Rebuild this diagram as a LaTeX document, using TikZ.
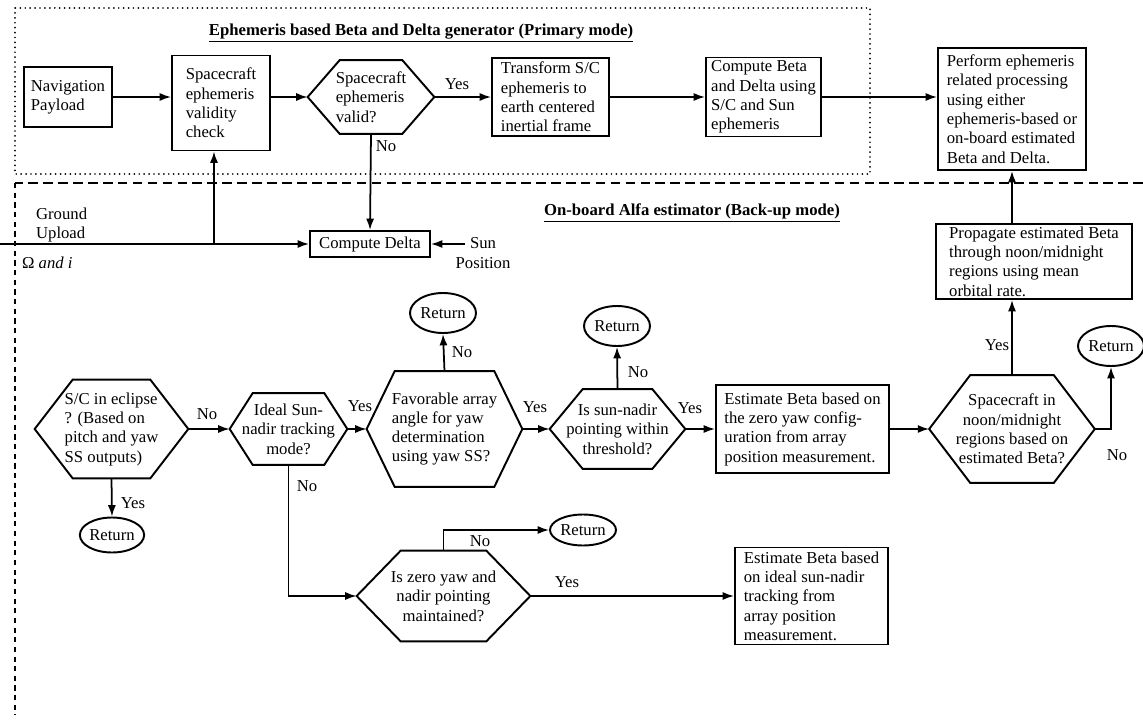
\documentclass[tikz,border=0pt]{standalone}
\usepackage{fontspec}
\setmainfont{Liberation Serif}
\usetikzlibrary{shapes.geometric, calc, arrows.meta}
\tikzset{
  process/.style={rectangle, draw=black, line width=1.1pt,
    font=\fontsize{9.5}{11}\selectfont, align=left, inner sep=1.5pt},
  decision/.style={rectangle, font=\fontsize{9.5}{11}\selectfont,
    align=center, inner sep=1pt},
  hexline/.style={draw=black, line width=1.1pt, line join=miter},
  retnode/.style={ellipse, draw=black, line width=1.1pt,
    font=\fontsize{9.5}{11}\selectfont, inner sep=0pt,
    minimum width=1.32cm, minimum height=0.8cm},
  flow/.style={line width=1pt, -{Latex[length=6.5pt,width=4.6pt]}},
  link/.style={line width=1pt},
  lbl/.style={font=\fontsize{9.5}{11}\selectfont, inner sep=1pt},
  heading/.style={font=\fontsize{9.5}{11}\selectfont\bfseries, inner sep=1pt},
  primary/.style={line width=1.1pt, line cap=round, dash pattern=on 0pt off 2.8pt},
  backup/.style={line width=1pt, dash pattern=on 5.5pt off 3pt}
}
% hexagon outline round an invisible decision node: #1 name, #2 cut
\newcommand{\hexframe}[2]{%
  \draw[hexline] (#1.west) -- ($(#1.north west)+(#2,0)$)
    -- ($(#1.north east)-(#2,0)$) -- (#1.east)
    -- ($(#1.south east)-(#2,0)$) -- ($(#1.south west)+(#2,0)$) -- cycle;}

\begin{document}
\begin{tikzpicture}[x=0.02cm, y=-0.02cm]
\useasboundingbox (0,0) rectangle (1143,723);

%% ── Mode frames ────────────────────────────────────────
\draw[primary] (15,8) rectangle (870,174);
\draw[backup] (1143,183) -- (15,183);
\draw[backup, dash pattern=on 3pt off 2.5pt] (15,183) -- (15,715);
\node[heading] (primtitle) at (421,33)
  {\underline{Ephemeris based Beta and Delta generator (Primary mode)}};
\node[heading] (backtitle) at (692,213)
  {\underline{On-board Alfa estimator (Back-up mode)}};

%% ── Primary mode ───────────────────────────────────────
\node[process, minimum width=1.76cm, minimum height=1.2cm]  (nav)       at (68,97)    {Navigation\\Payload};
\node[process, minimum width=1.96cm, minimum height=1.9cm]  (check)     at (221,103)  {Spacecraft\\ephemeris\\validity\\check};
\node[decision, align=left, minimum width=2.52cm, minimum height=1.46cm] (valid) at (371,97) {Spacecraft\\ephemeris\\valid?};
\node[process, minimum width=2.34cm, minimum height=1.56cm] (transform) at (550.5,97) {Transform S/C\\ephemeris to\\earth centered\\inertial frame};
\node[process, minimum width=2.3cm, minimum height=1.58cm]  (compute)   at (763.5,97) {Compute Beta\\and Delta using\\S/C and Sun\\ephemeris};
\node[process, minimum width=2.96cm, minimum height=2.44cm] (perform)   at (1012,109) {Perform ephemeris\\related processing\\using either\\ephemeris-based or\\on-board estimated\\Beta and Delta.};
\hexframe{valid}{32}

%% ── Back-up inputs ─────────────────────────────────────
\node[process, align=center, minimum width=2.4cm, minimum height=0.52cm] (delta) at (370,244) {Compute Delta};
\node[lbl, align=left]   (ground) at (34,225)  [anchor=west] {Ground\\Upload};
\node[lbl]               (omega)  at (20,263)  [anchor=west] {Ω \textit{and i}};
\node[lbl, align=center] (sunpos) at (483,253) {Sun\\Position};
\coordinate (gnd) at (0,244);
\coordinate (upl) at (214,244);
\coordinate (sun) at (465,244);

%% ── Back-up estimator ──────────────────────────────────
\node[decision, align=left, minimum width=3.06cm, minimum height=1.96cm] (eclipse) at (111.5,429) {S/C in eclipse\\? (Based on\\pitch and yaw\\SS outputs)};
\node[decision, minimum width=2.34cm, minimum height=1.42cm] (ideal)     at (288.5,429) {Ideal Sun-\\nadir tracking\\mode?};
\node[decision, align=left, minimum width=3.1cm, minimum height=2.3cm] (favorable) at (444.5,429) {Favorable array\\angle for yaw\\determination\\using yaw SS?};
\node[decision, minimum width=2.7cm, minimum height=1.58cm]  (sunnadir)  at (617.5,429) {Is sun-nadir\\pointing within\\threshold?};
\node[process, minimum width=3.46cm, minimum height=1.76cm]  (zyest)     at (802.5,429) {Estimate Beta based on\\the zero yaw config-\\uration from array\\position measurement.};
\node[decision, minimum width=3.3cm, minimum height=2.14cm]  (noon)      at (1012,429)  {Spacecraft in\\noon/midnight\\regions based on\\estimated Beta?};
\node[process, minimum width=3.92cm, minimum height=1.46cm]  (propagate) at (1034,261.5) {Propagate estimated Beta\\through noon/midnight\\regions using mean\\orbital rate.};
\node[decision, minimum width=3.46cm, minimum height=1.8cm]  (zerohex)   at (443.5,596) {Is zero yaw and\\nadir pointing\\maintained?};
\node[process, minimum width=3.06cm, minimum height=1.94cm]  (idealest)  at (811.5,596) {Estimate Beta based\\on ideal sun-nadir\\tracking from\\array position\\measurement.};
\hexframe{eclipse}{38}
\hexframe{ideal}{23}
\hexframe{favorable}{28}
\hexframe{sunnadir}{33}
\hexframe{noon}{41}
\hexframe{zerohex}{44}

%% ── Returns ────────────────────────────────────────────
\node[retnode, minimum width=1.14cm, minimum height=0.7cm] (ret1) at (112,535) {Return};
\node[retnode] (ret2) at (443,313)  {Return};
\node[retnode] (ret3) at (617,326)  {Return};
\node[retnode] (ret4) at (1111,346) {Return};
\node[retnode, minimum height=0.62cm] (ret5) at (583,530) {Return};

%% ── Connections ────────────────────────────────────────
% primary chain
\draw[flow] (nav.east) -- (nav.east -| check.west);
\draw[flow] (check.east |- valid.west) -- (valid.west);
\draw[flow] (valid.east) -- (transform.west);
\node[lbl] (yes1) at (457,84) {Yes};
\draw[flow] (transform.east) -- (compute.west);
\draw[flow] (compute.east) -- (compute.east -| perform.west);

% fall back to on-board Delta
\draw[flow] (valid.south) -- (delta.north);
\node[lbl] (no1) at (386,146) {No};
\draw[flow] (gnd) -- (delta.west);
\draw[flow] (upl) -- (upl |- check.south);
\draw[flow] (sun) -- (delta.east);

% estimator chain
\draw[flow] (eclipse.east) -- (ideal.west);
\node[lbl] (no2) at (207,414) {No};
\draw[flow] (eclipse.south) -- (ret1.north);
\node[lbl] (yes2) at (133,503) {Yes};
\draw[flow] (ideal.east) -- (favorable.west);
\node[lbl] (yes3) at (360,406) {Yes};
\draw[flow] (favorable.north) -- (ret2.south);
\node[lbl] (no3) at (462,352) {No};
\draw[flow] (favorable.east) -- (sunnadir.west);
\node[lbl] (yes4) at (535,407) {Yes};
\draw[flow] (sunnadir.north) -- (ret3.south);
\node[lbl] (no4) at (638,372) {No};
\draw[flow] (sunnadir.east) -- (zyest.west);
\node[lbl] (yes5) at (690,408) {Yes};
\draw[flow] (zyest.east) -- (noon.west);
\draw[flow] (noon.north) -- (noon.north |- propagate.south);
\node[lbl] (yes6) at (997,345) {Yes};
\draw[flow] (noon.east) -| (ret4.south);
\node[lbl] (no5) at (1117,455) {No};
\draw[flow] (perform.south |- propagate.north) -- (perform.south);

% ideal sun-nadir branch
\draw[flow] (ideal.south) |- (zerohex.west);
\node[lbl] (no6) at (307,486) {No};
\draw[flow] (zerohex.north) |- (ret5.west);
\node[lbl] (no7) at (480,541) {No};
\draw[flow] (zerohex.east) -- (idealest.west);
\node[lbl] (yes7) at (567,582) {Yes};

\end{tikzpicture}
\end{document}
